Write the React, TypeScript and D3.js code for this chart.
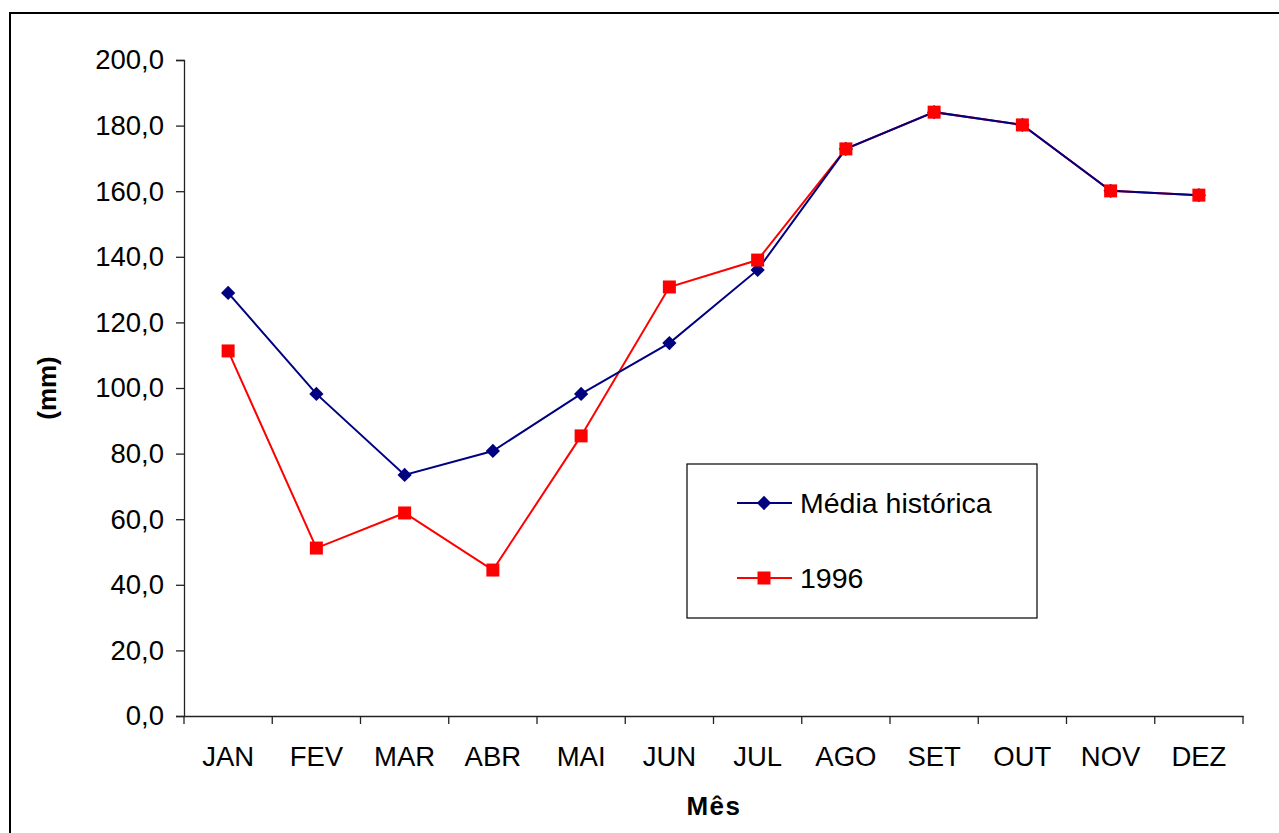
import React, { useEffect, useRef } from 'react';
import * as d3 from 'd3';

const months = ['JAN', 'FEV', 'MAR', 'ABR', 'MAI', 'JUN', 'JUL', 'AGO', 'SET', 'OUT', 'NOV', 'DEZ'];
const mediaHistorica = [129.0, 98.2, 73.5, 80.8, 98.2, 113.7, 136.0, 172.9, 184.1, 180.2, 160.1, 158.8];
const ano1996 = [111.3, 51.2, 61.9, 44.5, 85.4, 130.8, 139.0, 172.9, 184.1, 180.2, 160.1, 158.8];
const yTicks = [0, 20, 40, 60, 80, 100, 120, 140, 160, 180, 200];

const App = () => {
  const svgRef = useRef<SVGSVGElement>(null);

  useEffect(() => {
    const svg = d3.select(svgRef.current);
    const W = 1279, H = 833;
    const margin = { top: 60, right: 36, bottom: 117, left: 184 };
    const font = 'Arial, "Liberation Sans", sans-serif';

    svg.selectAll('*').remove(); // start clean

    svg.append('rect').attr('width', W).attr('height', H).attr('fill', 'white');
    // outer chart frame
    svg.append('rect')
      .attr('x', 10).attr('y', 13).attr('width', W + 10).attr('height', H + 10)
      .attr('fill', 'none').attr('stroke', '#000').attr('stroke-width', 2);

    const xScale = d3.scaleBand()
      .domain(months)
      .range([margin.left, W - margin.right]);

    const yScale = d3.scaleLinear()
      .domain([0, 200])
      .range([H - margin.bottom, margin.top]);

    // y axis
    const yAxis = svg.append('g')
      .attr('transform', `translate(${margin.left},0)`)
      .call(d3.axisLeft(yScale).tickValues(yTicks).tickSize(8).tickPadding(12)
        .tickFormat(d => d3.format('.1f')(d as number).replace('.', ',')));
    yAxis.select('.domain').attr('stroke', '#222').attr('stroke-width', 1.3);
    yAxis.selectAll('.tick line').attr('stroke', '#222').attr('stroke-width', 1.3);
    yAxis.selectAll('text').attr('font-family', font).attr('font-size', 27.5).attr('fill', '#000');

    // x axis with ticks between categories
    const xAxis = svg.append('g')
      .attr('transform', `translate(0,${yScale(0)})`)
      .call(d3.axisBottom(xScale).tickSize(0).tickPadding(30));
    xAxis.select('.domain').attr('stroke', '#222').attr('stroke-width', 1.3);
    xAxis.selectAll('text').attr('font-family', font).attr('font-size', 27.5).attr('fill', '#000');
    xAxis.selectAll('.boundary')
      .data(d3.range(months.length + 1))
      .join('line')
      .attr('x1', i => margin.left + i * xScale.step())
      .attr('x2', i => margin.left + i * xScale.step())
      .attr('y1', 0).attr('y2', 8)
      .attr('stroke', '#222').attr('stroke-width', 1.3);

    const cx = (m: string) => (xScale(m) as number) + xScale.bandwidth() / 2;

    const line = d3.line<number>()
      .x((d, i) => cx(months[i]))
      .y(d => yScale(d));

    // 1996 (drawn first, historical on top)
    svg.append('path').datum(ano1996)
      .attr('d', line).attr('fill', 'none').attr('stroke', '#ff0000').attr('stroke-width', 2);
    svg.append('path').datum(mediaHistorica)
      .attr('d', line).attr('fill', 'none').attr('stroke', '#000080').attr('stroke-width', 2);

    const square = d3.symbol().type(d3.symbolSquare).size(169);
    const diamond = d3.symbol().type(d3.symbolDiamond2).size(130);

    svg.append('g').selectAll('path')
      .data(mediaHistorica)
      .join('path')
      .attr('d', diamond)
      .attr('transform', (d, i) => `translate(${cx(months[i])},${yScale(d)})`)
      .attr('fill', '#000080');

    svg.append('g').selectAll('path')
      .data(ano1996)
      .join('path')
      .attr('d', square)
      .attr('transform', (d, i) => `translate(${cx(months[i])},${yScale(d)})`)
      .attr('fill', '#ff0000');

    // axis titles
    svg.append('text')
      .attr('x', 714).attr('y', 815)
      .attr('text-anchor', 'middle')
      .attr('font-family', font).attr('font-size', 26).attr('font-weight', 'bold')
      .attr('letter-spacing', 1.5)
      .text('Mês');
    svg.append('text')
      .attr('transform', 'translate(56,388) rotate(-90)')
      .attr('text-anchor', 'middle')
      .attr('font-family', font).attr('font-size', 26).attr('font-weight', 'bold')
      .text('(mm)');

    // legend
    const legend = svg.append('g');
    legend.append('rect')
      .attr('x', 687).attr('y', 464).attr('width', 350).attr('height', 154)
      .attr('fill', 'white').attr('stroke', '#000').attr('stroke-width', 1.2);
    const items = [
      { label: 'Média histórica', color: '#000080', sym: diamond, y: 503 },
      { label: '1996', color: '#ff0000', sym: square, y: 578 },
    ];
    items.forEach(it => {
      legend.append('line')
        .attr('x1', 737).attr('x2', 792).attr('y1', it.y).attr('y2', it.y)
        .attr('stroke', it.color).attr('stroke-width', 2);
      legend.append('path')
        .attr('d', it.sym)
        .attr('transform', `translate(764,${it.y})`)
        .attr('fill', it.color);
      legend.append('text')
        .attr('x', 800).attr('y', it.y)
        .attr('dy', '0.36em')
        .attr('font-family', font).attr('font-size', 28.5)
        .text(it.label);
    });
  }, []);

  return (
    <svg ref={svgRef} width={1279} height={833}
      style={{ position: 'absolute', left: 0, top: 0, display: 'block' }} />
  );
};

export default App;
